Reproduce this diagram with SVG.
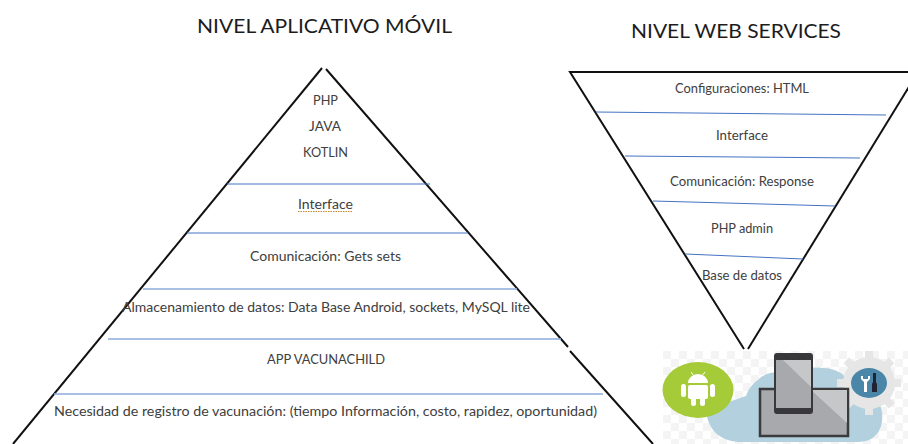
<svg xmlns="http://www.w3.org/2000/svg" width="908" height="444" viewBox="0 0 908 444">
<style>
.t{font-family:"Lato","Carlito","Open Sans",sans-serif;font-size:12.5px;fill:#404040}
.h{font-family:"Lato","Carlito","Open Sans",sans-serif;font-size:20px;fill:#1c1c1c}
.k{stroke:#111;stroke-width:2;fill:none}
.b{stroke:#4472c4;stroke-width:1;fill:none}
.bl{stroke:#8eaadb;stroke-width:1.6;fill:none}
</style>
<defs>
<pattern id="chk" width="16" height="16" patternUnits="userSpaceOnUse" x="663" y="351">
<rect width="16" height="16" fill="#fff"/>
<rect width="8" height="8" fill="#f4f4f4"/>
<rect x="8" y="8" width="8" height="8" fill="#f4f4f4"/>
</pattern>
<filter id="soft" x="-5%" y="-5%" width="110%" height="110%"><feGaussianBlur stdDeviation="0.5"/></filter>
</defs>
<rect width="908" height="444" fill="#fff"/>

<g id="titles">
<text class="h" x="197" y="33" textLength="255" lengthAdjust="spacingAndGlyphs">NIVEL APLICATIVO MÓVIL</text>
<text class="h" x="631" y="38" textLength="210" lengthAdjust="spacingAndGlyphs">NIVEL WEB SERVICES</text>
</g>

<g id="connectors">
<path class="k" d="M322 68L13 444"/>
<path class="k" d="M326 69L568 347M570 351L653 444"/>
<path class="k" d="M908 72H570L744 349"/>
<path class="k" d="M748 349L918 72"/>
<path class="b" d="M227 184H430M187 233H468"/>
<path class="bl" d="M143 289H517M108 339H561"/>
<path class="bl" d="M54 394H603"/>
<path class="b" d="M596 112L886 115M625 156L860 158M653 201L835 206M685 254L803 259"/>
</g>

<g id="left-pyramid">
<text class="t" x="313" y="105" textLength="25" lengthAdjust="spacingAndGlyphs">PHP</text>
<text class="t" x="309" y="131" textLength="32" lengthAdjust="spacingAndGlyphs">JAVA</text>
<text class="t" x="303" y="157" textLength="45" lengthAdjust="spacingAndGlyphs">KOTLIN</text>
<text class="t" x="298" y="209" textLength="55" lengthAdjust="spacingAndGlyphs">Interface</text>
<path d="M298 211.500H353" stroke="#c58a2e" stroke-width="1" stroke-dasharray="1.500 1"/>
<text class="t" x="250" y="261" textLength="151" lengthAdjust="spacingAndGlyphs">Comunicación: Gets sets</text>
<text class="t" x="122" y="312" textLength="408" lengthAdjust="spacingAndGlyphs">Almacenamiento de datos: Data Base Android, sockets, MySQL lite</text>
<text class="t" x="267" y="364" textLength="118" lengthAdjust="spacingAndGlyphs">APP VACUNACHILD</text>
<text class="t" x="54" y="416" textLength="543" lengthAdjust="spacingAndGlyphs">Necesidad de registro de vacunación: (tiempo Información, costo, rapidez, oportunidad)</text>
</g>

<g id="right-pyramid">
<text class="t" x="675" y="93" textLength="134" lengthAdjust="spacingAndGlyphs">Configuraciones: HTML</text>
<text class="t" x="716" y="140" textLength="52" lengthAdjust="spacingAndGlyphs">Interface</text>
<text class="t" x="670" y="186" textLength="144" lengthAdjust="spacingAndGlyphs">Comunicación: Response</text>
<text class="t" x="711" y="233" textLength="62" lengthAdjust="spacingAndGlyphs">PHP admin</text>
<text class="t" x="702" y="280" textLength="80" lengthAdjust="spacingAndGlyphs">Base de datos</text>
</g>

<g id="devices-image" filter="url(#soft)">
<rect x="663" y="351" width="245" height="93" fill="url(#chk)"/>
<path d="M706 410C708 432 722 442 742 442H858C875 442 884 430 882 412C880 398 868 390 852 388C848 376 838 368 822 368C810 366 800 372 792 374C780 370 765 372 758 380C752 384 748 390 746 396Z" fill="#b2d0de"/>
<g id="gear">
<circle cx="869" cy="383" r="26" fill="#e6e6e6"/>
<g fill="#e6e6e6"><rect x="865" y="351" width="8" height="64"/><rect x="837" y="379" width="64" height="8"/><rect x="865" y="351" width="8" height="64" transform="rotate(45 869 383)"/><rect x="837" y="379" width="64" height="8" transform="rotate(45 869 383)"/></g>
<ellipse cx="869" cy="383" rx="18" ry="15" fill="#4a86a8"/>
<path d="M861 376v3l3 3v10h3v-10l3-3v-3l-2 0v3h-5v-3z" fill="#fff"/>
<path d="M873 373h3v9l1 2v8h-5v-8l1-2z" fill="#223"/>
</g>
<g id="android">
<ellipse cx="698" cy="390" rx="35.500" ry="28" fill="#a6cb38"/>
<g fill="#fff">
<path d="M688 383a10 9 0 0 1 20 0z"/>
<rect x="688" y="385" width="20" height="14" rx="2"/>
<rect x="681" y="384" width="5" height="13" rx="2.500"/>
<rect x="710" y="384" width="5" height="13" rx="2.500"/>
<rect x="691" y="397" width="5" height="9" rx="2.500"/>
<rect x="700" y="397" width="5" height="9" rx="2.500"/>
<path d="M691 372l3 4M705 372l-3 4" stroke="#fff" stroke-width="1"/>
</g>
</g>
<g id="tablet">
<rect x="760" y="389" width="88" height="47" fill="#a8a9ad" stroke="#3a3a3c" stroke-width="2.500"/>
<path d="M811 390H847V423Z" fill="#c6c7c9"/>
</g>
<g id="phone">
<rect x="774" y="353" width="39" height="61" rx="3" fill="#39393b"/>
<rect x="776" y="360" width="35" height="48" fill="#a8a9ad"/>
<path d="M783 360H811V387Z" fill="#c6c7c9"/>
</g>
</g>
</svg>
